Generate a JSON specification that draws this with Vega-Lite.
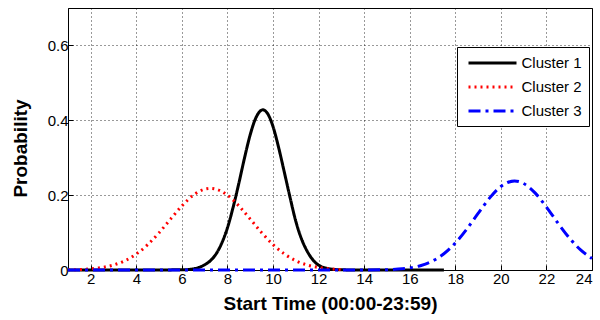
{
  "$schema": "https://vega.github.io/schema/vega-lite/v6.json",
  "width": 524,
  "height": 262,
  "autosize": "none",
  "padding": {"left": 68, "top": 8, "right": 8, "bottom": 50},
  "background": "white",
  "config": {
    "view": {"stroke": "black", "strokeWidth": 1},
    "font": "Liberation Sans",
    "axis": {
      "labelFont": "Liberation Sans",
      "labelFontSize": 15,
      "labelColor": "black",
      "titleFont": "Liberation Sans",
      "titleFontSize": 19,
      "titleFontWeight": "bold",
      "titleColor": "black",
      "domainColor": "black",
      "tickColor": "black",
      "tickSize": -5,
      "grid": true,
      "gridColor": "black",
      "gridDash": [1, 3],
      "gridOpacity": 0.8
    },
    "legend": {
      "labelFont": "Liberation Sans",
      "labelFontSize": 15,
      "labelColor": "black"
    }
  },
  "data": {
    "values": [
      {"t": 1, "p": 0, "c": "Cluster 1"},
      {"t": 6.0, "p": 0.0004, "c": "Cluster 1"},
      {"t": 6.5, "p": 0.003, "c": "Cluster 1"},
      {"t": 7.0, "p": 0.014, "c": "Cluster 1"},
      {"t": 7.25, "p": 0.025, "c": "Cluster 1"},
      {"t": 7.5, "p": 0.043, "c": "Cluster 1"},
      {"t": 7.75, "p": 0.072, "c": "Cluster 1"},
      {"t": 8.0, "p": 0.113, "c": "Cluster 1"},
      {"t": 8.25, "p": 0.168, "c": "Cluster 1"},
      {"t": 8.5, "p": 0.232, "c": "Cluster 1"},
      {"t": 8.75, "p": 0.3, "c": "Cluster 1"},
      {"t": 9.0, "p": 0.362, "c": "Cluster 1"},
      {"t": 9.25, "p": 0.407, "c": "Cluster 1"},
      {"t": 9.55, "p": 0.428, "c": "Cluster 1"},
      {"t": 9.75, "p": 0.419, "c": "Cluster 1"},
      {"t": 10.0, "p": 0.383, "c": "Cluster 1"},
      {"t": 10.25, "p": 0.326, "c": "Cluster 1"},
      {"t": 10.5, "p": 0.26, "c": "Cluster 1"},
      {"t": 10.75, "p": 0.193, "c": "Cluster 1"},
      {"t": 11.0, "p": 0.13, "c": "Cluster 1"},
      {"t": 11.25, "p": 0.083, "c": "Cluster 1"},
      {"t": 11.5, "p": 0.05, "c": "Cluster 1"},
      {"t": 11.75, "p": 0.027, "c": "Cluster 1"},
      {"t": 12.0, "p": 0.013, "c": "Cluster 1"},
      {"t": 12.5, "p": 0.003, "c": "Cluster 1"},
      {"t": 13.0, "p": 0.0005, "c": "Cluster 1"},
      {"t": 14.0, "p": 0, "c": "Cluster 1"},
      {"t": 17.5, "p": 0, "c": "Cluster 1"},

      {"t": 1, "p": 0.0005, "c": "Cluster 2"},
      {"t": 1.5, "p": 0.0013, "c": "Cluster 2"},
      {"t": 2, "p": 0.0031, "c": "Cluster 2"},
      {"t": 2.5, "p": 0.0067, "c": "Cluster 2"},
      {"t": 3, "p": 0.0134, "c": "Cluster 2"},
      {"t": 3.5, "p": 0.0249, "c": "Cluster 2"},
      {"t": 4, "p": 0.0427, "c": "Cluster 2"},
      {"t": 4.5, "p": 0.0679, "c": "Cluster 2"},
      {"t": 5, "p": 0.0998, "c": "Cluster 2"},
      {"t": 5.5, "p": 0.1359, "c": "Cluster 2"},
      {"t": 6, "p": 0.1713, "c": "Cluster 2"},
      {"t": 6.5, "p": 0.1999, "c": "Cluster 2"},
      {"t": 7, "p": 0.2159, "c": "Cluster 2"},
      {"t": 7.25, "p": 0.218, "c": "Cluster 2"},
      {"t": 7.5, "p": 0.2159, "c": "Cluster 2"},
      {"t": 8, "p": 0.1999, "c": "Cluster 2"},
      {"t": 8.5, "p": 0.1713, "c": "Cluster 2"},
      {"t": 9, "p": 0.1359, "c": "Cluster 2"},
      {"t": 9.5, "p": 0.0998, "c": "Cluster 2"},
      {"t": 10, "p": 0.0679, "c": "Cluster 2"},
      {"t": 10.5, "p": 0.0427, "c": "Cluster 2"},
      {"t": 11, "p": 0.0249, "c": "Cluster 2"},
      {"t": 11.5, "p": 0.0134, "c": "Cluster 2"},
      {"t": 12, "p": 0.0067, "c": "Cluster 2"},
      {"t": 12.5, "p": 0.0031, "c": "Cluster 2"},
      {"t": 13, "p": 0.0013, "c": "Cluster 2"},

      {"t": 1, "p": 0, "c": "Cluster 3"},
      {"t": 14.0, "p": 0.0002, "c": "Cluster 3"},
      {"t": 15.0, "p": 0.0009, "c": "Cluster 3"},
      {"t": 15.5, "p": 0.0024, "c": "Cluster 3"},
      {"t": 16.0, "p": 0.0056, "c": "Cluster 3"},
      {"t": 16.5, "p": 0.0121, "c": "Cluster 3"},
      {"t": 17.0, "p": 0.024, "c": "Cluster 3"},
      {"t": 17.5, "p": 0.0434, "c": "Cluster 3"},
      {"t": 18.0, "p": 0.0719, "c": "Cluster 3"},
      {"t": 18.5, "p": 0.109, "c": "Cluster 3"},
      {"t": 19.0, "p": 0.151, "c": "Cluster 3"},
      {"t": 19.5, "p": 0.192, "c": "Cluster 3"},
      {"t": 20.0, "p": 0.223, "c": "Cluster 3"},
      {"t": 20.6, "p": 0.238, "c": "Cluster 3"},
      {"t": 21.0, "p": 0.231, "c": "Cluster 3"},
      {"t": 21.5, "p": 0.206, "c": "Cluster 3"},
      {"t": 22.0, "p": 0.168, "c": "Cluster 3"},
      {"t": 22.5, "p": 0.1256, "c": "Cluster 3"},
      {"t": 23.0, "p": 0.0858, "c": "Cluster 3"},
      {"t": 23.5, "p": 0.0536, "c": "Cluster 3"},
      {"t": 24.0, "p": 0.0307, "c": "Cluster 3"}
    ]
  },
  "mark": {"type": "line", "interpolate": "monotone", "strokeWidth": 3, "clip": false},
  "encoding": {
    "x": {
      "field": "t",
      "type": "quantitative",
      "scale": {"domain": [1, 24], "nice": false, "zero": false},
      "axis": {
        "title": "Start Time (00:00-23:59)",
        "values": [2, 4, 6, 8, 10, 12, 14, 16, 18, 20, 22, 24],
        "labelPadding": 6,
        "titlePadding": 8
      }
    },
    "y": {
      "field": "p",
      "type": "quantitative",
      "scale": {"domain": [0, 0.7], "nice": false},
      "axis": {
        "title": "Probability",
        "values": [0, 0.2, 0.4, 0.6],
        "format": "~g",
        "labelPadding": 5,
        "titleX": -48,
        "titleY": 140,
        "titleAngle": 270,
        "titleBaseline": "middle",
        "titleAlign": "center"
      }
    },
    "color": {
      "field": "c",
      "type": "nominal",
      "scale": {"domain": ["Cluster 1", "Cluster 2", "Cluster 3"], "range": ["#000000", "#ff0000", "#0000ff"]},
      "legend": {
        "title": null,
        "orient": "none",
        "legendX": 389,
        "legendY": 39,
        "symbolType": "M-3.2,0L3.2,0",
        "symbolSize": 225,
        "symbolOffset": 19.5,
        "symbolStrokeWidth": 3,
        "labelOffset": 20,
        "rowPadding": 7,
        "padding": 7,
        "strokeColor": "black",
        "fillColor": "white"
      }
    },
    "strokeDash": {
      "field": "c",
      "type": "nominal",
      "scale": {"domain": ["Cluster 1", "Cluster 2", "Cluster 3"], "range": [[1, 0], [2, 4], [12, 5, 3, 5]]},
      "legend": {
        "title": null,
        "orient": "none",
        "legendX": 389,
        "legendY": 39,
        "symbolType": "M-3.2,0L3.2,0",
        "symbolSize": 225,
        "symbolOffset": 19.5,
        "symbolStrokeWidth": 3,
        "labelOffset": 20,
        "rowPadding": 7,
        "padding": 7,
        "strokeColor": "black",
        "fillColor": "white"
      }
    }
  }
}
